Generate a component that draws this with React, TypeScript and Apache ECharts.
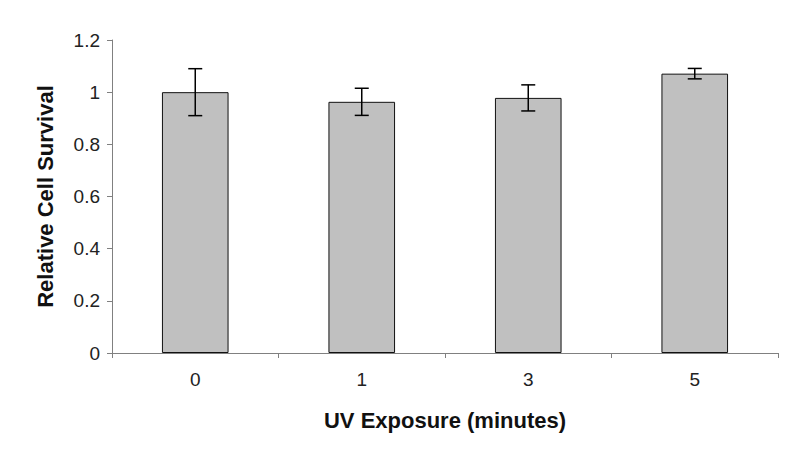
import React, { useEffect, useRef } from "react";
import * as echarts from "echarts";

const categories = ["0", "1", "3", "5"];
const survival = [1.0, 0.963, 0.978, 1.071];
const errors = [0.09, 0.052, 0.05, 0.02];
const yTicks = { min: 0, max: 1.2, interval: 0.2 };

const FONT = "'Liberation Sans', Arial, sans-serif";

export default function App() {
  const ref = useRef<HTMLDivElement>(null);
  useEffect(() => {
    if (!ref.current) return;
    const chart = echarts.init(ref.current, undefined, { renderer: "svg" });
    const errData = survival.map((v, i) => [i, v - errors[i], v + errors[i]]);
    chart.setOption({
      animation: false,
      backgroundColor: "#ffffff",
      textStyle: { fontFamily: FONT },
      grid: { left: 112, right: 22, top: 40, bottom: 109 },
      xAxis: {
        type: "category",
        data: categories,
        name: "UV Exposure (minutes)",
        nameLocation: "middle",
        nameGap: 56,
        nameTextStyle: { fontFamily: FONT, fontSize: 22, fontWeight: "bold", color: "#111" },
        axisLine: { lineStyle: { color: "#808080", width: 1 } },
        axisTick: { show: true, length: 5, alignWithLabel: false, lineStyle: { color: "#808080" } },
        axisLabel: { fontFamily: FONT, fontSize: 19, color: "#222", margin: 17 },
        splitLine: { show: false },
      },
      yAxis: {
        type: "value",
        min: yTicks.min,
        max: yTicks.max,
        interval: yTicks.interval,
        name: "Relative Cell Survival",
        nameLocation: "middle",
        nameGap: 56,
        nameRotate: 90,
        nameTextStyle: { fontFamily: FONT, fontSize: 22, fontWeight: "bold", color: "#111" },
        axisLine: { show: true, lineStyle: { color: "#808080", width: 1 } },
        axisTick: { show: true, length: 5, lineStyle: { color: "#808080" } },
        axisLabel: {
          fontFamily: FONT,
          fontSize: 19,
          color: "#222",
          margin: 12,
          formatter: (v: number) => String(Math.round(v * 10) / 10),
        },
        splitLine: { show: false },
      },
      series: [
        {
          type: "bar",
          data: survival,
          barWidth: "40%",
          itemStyle: { color: "#c0c0c0", borderColor: "#111", borderWidth: 1 },
          z: 2,
        },
        {
          type: "custom",
          data: errData,
          z: 5,
          renderItem: (params: any, api: any) => {
            const x = api.value(0);
            const lo = api.coord([x, api.value(1)]);
            const hi = api.coord([x, api.value(2)]);
            const half = 7;
            const style = { stroke: "#000", lineWidth: 1.5 };
            return {
              type: "group",
              children: [
                { type: "line", shape: { x1: lo[0], y1: lo[1], x2: hi[0], y2: hi[1] }, style },
                { type: "line", shape: { x1: hi[0] - half, y1: hi[1], x2: hi[0] + half, y2: hi[1] }, style },
                { type: "line", shape: { x1: lo[0] - half, y1: lo[1], x2: lo[0] + half, y2: lo[1] }, style },
              ],
            };
          },
        },
      ],
    });
    return () => chart.dispose();
  }, []);
  return <div ref={ref} style={{ width: 800, height: 462, margin: -8 }} />;
}
